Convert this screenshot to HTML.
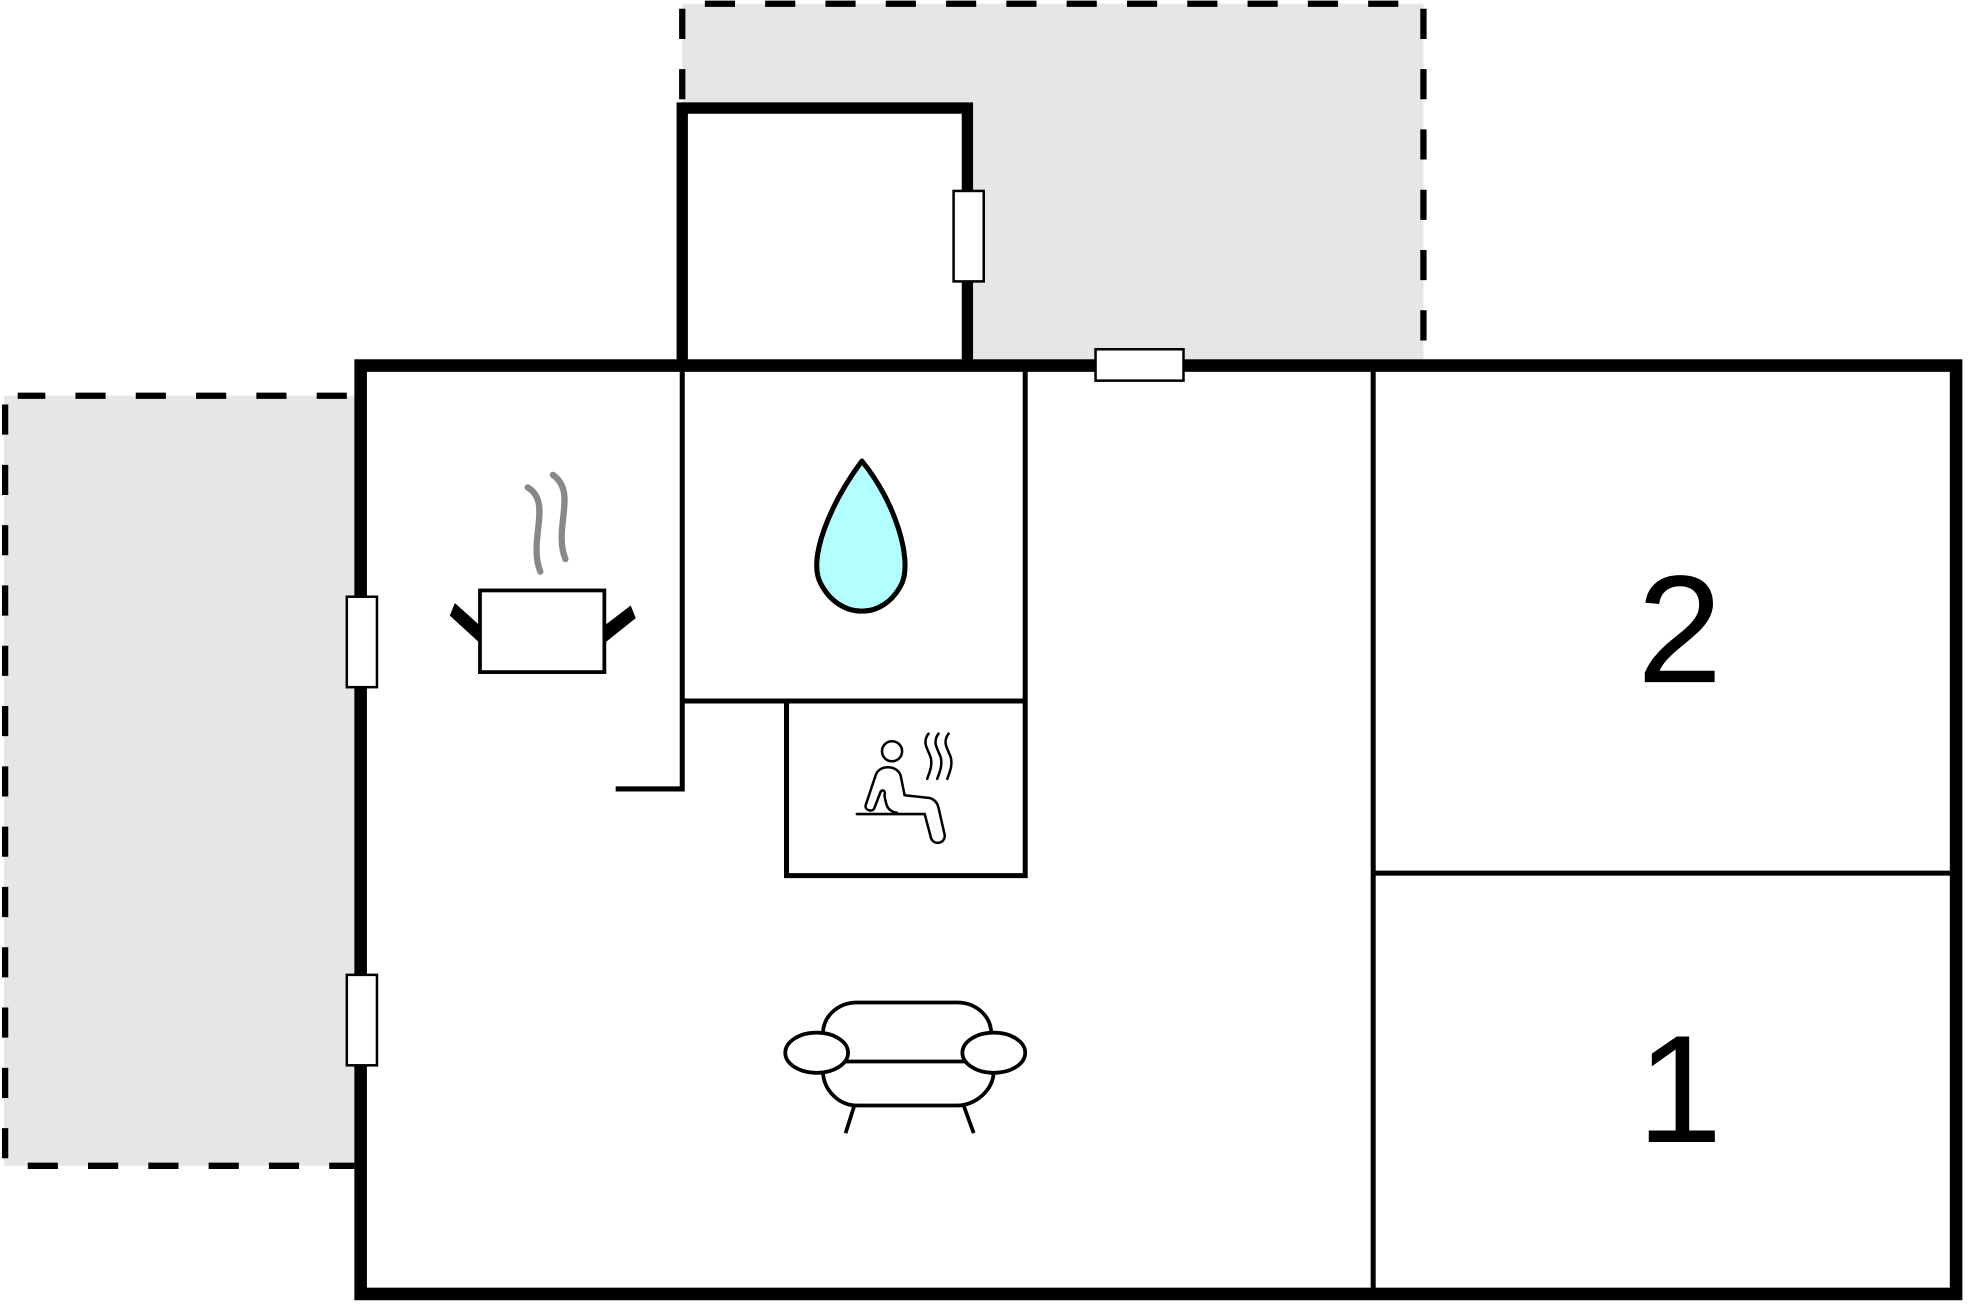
<!DOCTYPE html>
<html><head><style>html,body{margin:0;padding:0;background:#fff}svg{display:block}</style></head>
<body>
<svg width="1970" height="1304" viewBox="0 0 1568 1038" xmlns="http://www.w3.org/2000/svg">
<rect x="543" y="3" width="590" height="288" fill="#e6e6e6"/>
<rect x="3" y="315" width="280" height="613" fill="#e6e6e6"/>
<g stroke="#000" stroke-width="5" stroke-dasharray="24,24" fill="none">
<path d="M561 3 H1133 V290"/>
<path d="M543 7 V85"/>
<path d="M276 315 H14"/>
<path d="M4 322 V928 H282"/>
</g>
<rect x="543" y="86" width="227" height="205" fill="#fff"/>
<rect x="287" y="291" width="1275" height="739" fill="#fff"/>
<path d="M543 295 V86 H770 V295" fill="none" stroke="#000" stroke-width="9"/>
<rect x="287" y="291" width="1270" height="739" fill="none" stroke="#000" stroke-width="10"/>
<g stroke="#000" stroke-width="4" fill="none">
<path d="M543 291 V628 H490"/>
<path d="M543 291 H816 V697 H626 V558"/>
<path d="M543 558 H816"/>
<path d="M1093 291 V1030"/>
<path d="M1093 695 H1557"/>
</g>
<g fill="#fff" stroke="#000" stroke-width="2">
<rect x="759" y="152" width="24" height="72"/>
<rect x="872" y="278" width="70" height="25"/>
<rect x="276" y="475" width="24" height="72"/>
<rect x="276" y="776" width="24" height="72"/>
</g>
<text x="1337" y="543" font-family="Liberation Sans, sans-serif" font-size="122" text-anchor="middle">2</text>
<text x="1337" y="909" font-family="Liberation Sans, sans-serif" font-size="122" text-anchor="middle">1</text>
<path d="M686 367 C660 402 643 445 653 464 C668 494 704 494 718 464 C726 445 713 400 686 367 Z" fill="#b3ffff" stroke="#000" stroke-width="4" stroke-linejoin="round"/>
<g stroke="#888" stroke-width="5" fill="none" stroke-linecap="round">
<path d="M420 388 C440 400 420 430 430 455"/>
<path d="M440 378 C460 392 440 420 450 445"/>
</g>
<rect x="382" y="470" width="99" height="65" fill="#fff" stroke="#000" stroke-width="3"/>
<path d="M382 498 L362 480 L358 490 L382 512 Z M481 498 L502 482 L506 492 L481 512 Z" fill="#000"/>
<g stroke="#000" stroke-width="3" fill="#fff">
<path d="M655 823 C655 808 668 798 682 798 H762 C776 798 789 808 789 823"/>
<path d="M655 852 C655 868 668 880 682 880 H762 C776 880 791 868 791 852"/>
<path d="M673 845 H768"/>
<ellipse cx="650" cy="838" rx="25" ry="16"/>
<ellipse cx="791" cy="838" rx="25" ry="16"/>
<path d="M680 880 L673 902 M767 880 L775 902" fill="none"/>
</g>
<g stroke="#000" stroke-width="2" fill="none" stroke-linecap="round">
<circle cx="710" cy="598" r="8" fill="#fff"/>
<path d="M682 648 H736 L741 667 C743 673 752 672 752 665 L747 643 C746 638 742 635 738 635 L720 633 L717 618 C715 609 700 608 697 617 L689 641 C688 645 695 647 696 643 L701 630 C703 628 705 630 704 633 C705 640 706 646 714 647"/>
<path d="M739 584 C733 592 740 598 741 604 C742 610 740 614 738 620"/>
<path d="M747 584 C741 592 748 598 749 604 C750 610 748 614 746 620"/>
<path d="M755 584 C749 592 756 598 757 604 C758 610 756 614 754 620"/>
</g>
</svg>
</body></html>
